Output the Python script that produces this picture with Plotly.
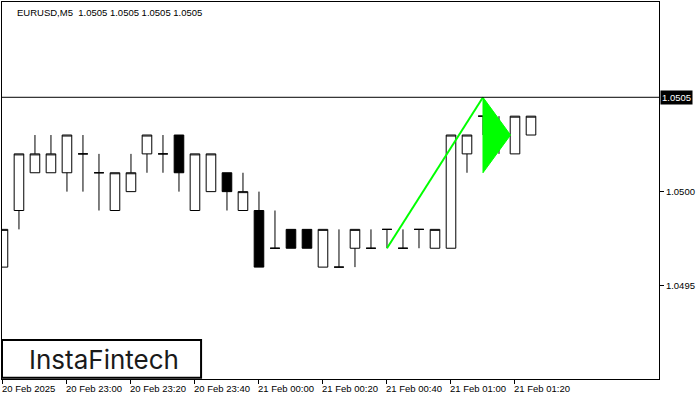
import plotly.graph_objects as go

# ---- data ----
symbol_title = "EURUSD,M5  1.0505 1.0505 1.0505 1.0505"
idx = list(range(34))
opens = [1.0496, 1.0499, 1.0501, 1.0501, 1.0501, 1.0502, 1.0501, 1.0499, 1.0500, 1.0502,
         1.0502, 1.0503, 1.0499, 1.0500, 1.0501, 1.0499, 1.0499, 1.0497, 1.0498, 1.0498,
         1.0496, 1.0496, 1.0497, 1.0497, 1.0498, 1.0497, 1.0498, 1.0497, 1.0497, 1.0502,
         1.0504, 1.0503, 1.0502, 1.0503]
highs = [1.0498, 1.0502, 1.0503, 1.0503, 1.0503, 1.0503, 1.0502, 1.0501, 1.0502, 1.0503,
         1.0503, 1.0503, 1.0502, 1.0502, 1.0501, 1.0501, 1.0500, 1.0499, 1.0498, 1.0498,
         1.0498, 1.0498, 1.0498, 1.0498, 1.0498, 1.0498, 1.0498, 1.0498, 1.0503, 1.0503,
         1.0504, 1.0504, 1.0504, 1.0504]
lows = [1.0496, 1.0498, 1.0501, 1.0501, 1.0500, 1.0500, 1.0499, 1.0499, 1.0500, 1.0501,
        1.0501, 1.0500, 1.0499, 1.0500, 1.0499, 1.0499, 1.0496, 1.0497, 1.0497, 1.0497,
        1.0496, 1.0496, 1.0496, 1.0497, 1.0497, 1.0497, 1.0497, 1.0497, 1.0497, 1.0501,
        1.0503, 1.0502, 1.0502, 1.0503]
closes = [1.0498, 1.0502, 1.0502, 1.0502, 1.0503, 1.0502, 1.0501, 1.0501, 1.0501, 1.0503,
          1.0502, 1.0501, 1.0502, 1.0502, 1.0500, 1.0500, 1.0496, 1.0497, 1.0497, 1.0497,
          1.0498, 1.0496, 1.0498, 1.0497, 1.0498, 1.0497, 1.0498, 1.0498, 1.0503, 1.0503,
          1.0504, 1.0503, 1.0504, 1.0504]

last_price = 1.0505

pole_x = [24, 30]
pole_y = [1.0497, 1.0505]
flag_x = [30, 30, 31.72, 30]
flag_y = [1.0505, 1.0501, 1.0503, 1.0505]

x_tick_idx = [0, 4, 8, 12, 16, 20, 24, 28, 32]
x_tick_labels = ["20 Feb 2025", "20 Feb 23:00", "20 Feb 23:20", "20 Feb 23:40",
                 "21 Feb 00:00", "21 Feb 00:20", "21 Feb 00:40", "21 Feb 01:00", "21 Feb 01:20"]
y_tick_vals = [1.0495, 1.0500]
y_tick_labels = ["1.0495", "1.0500"]

x_range = [-0.06, 41.0]
y_range = [1.049007, 1.051005]

FONT = "Liberation Sans"
GREEN = "#00ff00"

fig = go.Figure()

fig.add_trace(go.Scatter(x=flag_x, y=flag_y, mode="lines", fill="toself",
                         fillcolor=GREEN, line=dict(color=GREEN, width=1),
                         hoverinfo="skip", showlegend=False))

fig.add_trace(go.Candlestick(
    x=idx, open=opens, high=highs, low=lows, close=closes,
    increasing=dict(fillcolor="white", line=dict(color="black", width=1)),
    decreasing=dict(fillcolor="black", line=dict(color="black", width=1)),
    whiskerwidth=0, hoverinfo="skip", showlegend=False))

fig.add_trace(go.Scatter(x=pole_x, y=pole_y, mode="lines",
                         line=dict(color=GREEN, width=2),
                         hoverinfo="skip", showlegend=False))

fig.add_hline(y=last_price, line=dict(color="black", width=1))

annotations = []
for xi, lab in zip(x_tick_idx, x_tick_labels):
    annotations.append(dict(x=xi, y=0, xref="x", yref="paper", text=lab,
                            showarrow=False, xanchor="left", yanchor="top",
                            xshift=-3, yshift=-2,
                            font=dict(family=FONT, size=9.5, color="black")))
annotations.append(dict(x=1, y=last_price, xref="paper", yref="y",
                        text=str(last_price), showarrow=False,
                        xanchor="left", yanchor="middle", xshift=1,
                        bgcolor="black", borderpad=1,
                        font=dict(family=FONT, size=9.5, color="white")))
annotations.append(dict(x=0, y=1, xref="paper", yref="paper", text=symbol_title,
                        showarrow=False, xanchor="left", yanchor="top",
                        xshift=13, yshift=-3,
                        font=dict(family=FONT, size=9.5, color="black")))
annotations.append(dict(x=0.1545, y=0.053, xref="paper", yref="paper",
                        text="InstaFintech", showarrow=False,
                        xanchor="center", yanchor="middle",
                        font=dict(family="Inter", size=26, color="#1a1a1a", weight=400)))

fig.add_shape(type="rect", xref="paper", yref="paper", x0=0, x1=0.303,
              y0=0.003, y1=0.1034, line=dict(color="black", width=2),
              fillcolor="white", layer="above")

fig.update_layout(
    width=700, height=400,
    margin=dict(l=2, r=41, t=2, b=21),
    paper_bgcolor="white", plot_bgcolor="white",
    boxgap=0.4, boxgroupgap=0,
    showlegend=False,
    annotations=annotations,
    hovermode=False,
    xaxis=dict(range=x_range, showgrid=False, zeroline=False,
               showline=True, linecolor="black", linewidth=1, mirror=True,
               tickvals=x_tick_idx, ticktext=[""] * len(x_tick_idx),
               ticks="outside", ticklen=4, tickcolor="black",
               rangeslider=dict(visible=False)),
    yaxis=dict(range=y_range, side="right", showgrid=False, zeroline=False,
               showline=True, linecolor="black", linewidth=1, mirror=True,
               tickvals=y_tick_vals, ticktext=y_tick_labels,
               ticks="outside", ticklen=4, tickcolor="black",
               tickfont=dict(family=FONT, size=9.5, color="black")),
)

fig.write_html("out.html", config={"staticPlot": True},
               post_script="document.body.style.margin='0';document.body.style.padding='0';")
